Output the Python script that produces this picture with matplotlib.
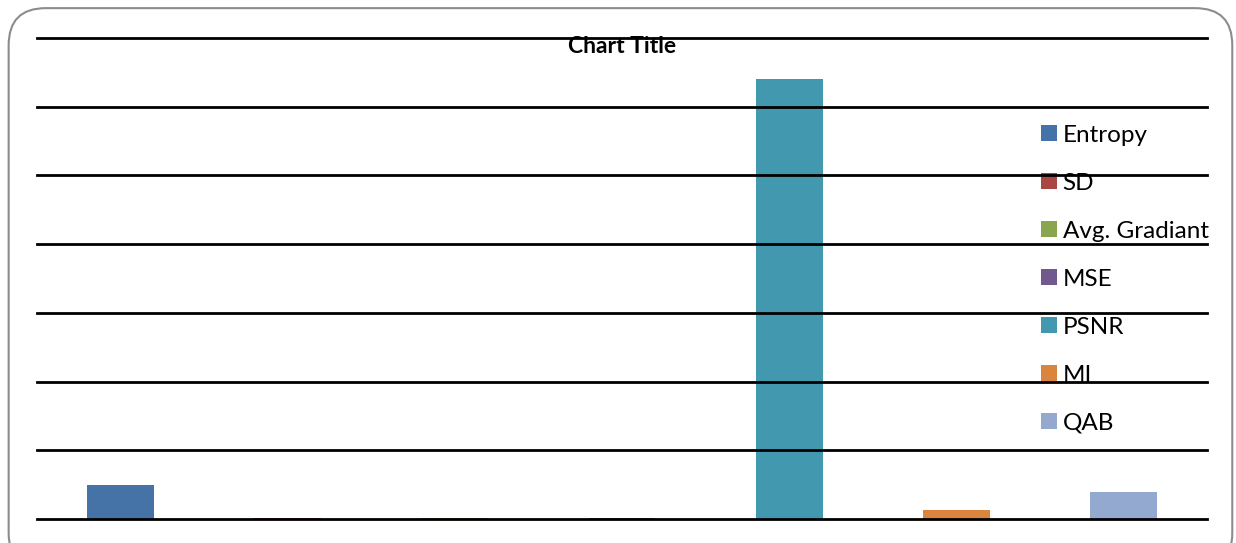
import matplotlib.pyplot as plt
from matplotlib.patches import FancyBboxPatch

# values (gridline step = 10)
metrics = ['Entropy', 'SD', 'Avg. Gradiant', 'MSE', 'PSNR', 'MI', 'QAB']
values = [4.95, 0.1, 0.15, 0.1, 64.0, 1.3, 3.9]
colors = ['#4573A7', '#AA4643', '#89A54E', '#71588F', '#4198AF', '#DB843D', '#93A9CF']

plt.rcParams['font.family'] = ['Lato', 'DejaVu Sans']

fig = plt.figure(figsize=(12.36, 5.43), dpi=100)
# rounded chart border
border = FancyBboxPatch((0.007, -0.05), 0.99, 1.035, boxstyle='round,pad=0,rounding_size=0.03',
                        transform=fig.transFigure, facecolor='none', edgecolor='#8c8c8c',
                        linewidth=1.5, mutation_aspect=1236 / 543, zorder=3)
fig.patches.append(border)

ax = fig.add_axes([0.0299, 0.0442, 0.9467, 0.886])
ax.set_facecolor('none')
bars = ax.bar(range(len(metrics)), values, width=0.4, color=colors, zorder=1)

ax.set_xlim(-0.5, len(metrics) - 0.5)
ax.set_ylim(0, 70)
ax.set_yticks(range(0, 71, 10))
ax.set_xticks([])
ax.tick_params(left=False, labelleft=False)
ax.grid(axis='y', color='black', linewidth=2, zorder=2)
for gl in ax.get_ygridlines():
    gl.set_clip_on(False)
ax.set_axisbelow(False)
for s in ax.spines.values():
    s.set_visible(False)

fig.text(0.503, 0.915, 'Chart Title', ha='center', va='center', fontsize=16.5, fontweight='bold')

leg = ax.legend(bars, metrics, loc='upper left', bbox_to_anchor=(1041 / 1236, 1 - 125 / 543),
                bbox_transform=fig.transFigure, frameon=False, fontsize=17.5,
                handlelength=0.64, handleheight=0.64, handletextpad=0.25,
                labelspacing=1.11, borderpad=0, borderaxespad=0)
leg.set_zorder(1)

fig.savefig('out.png', dpi=100)
